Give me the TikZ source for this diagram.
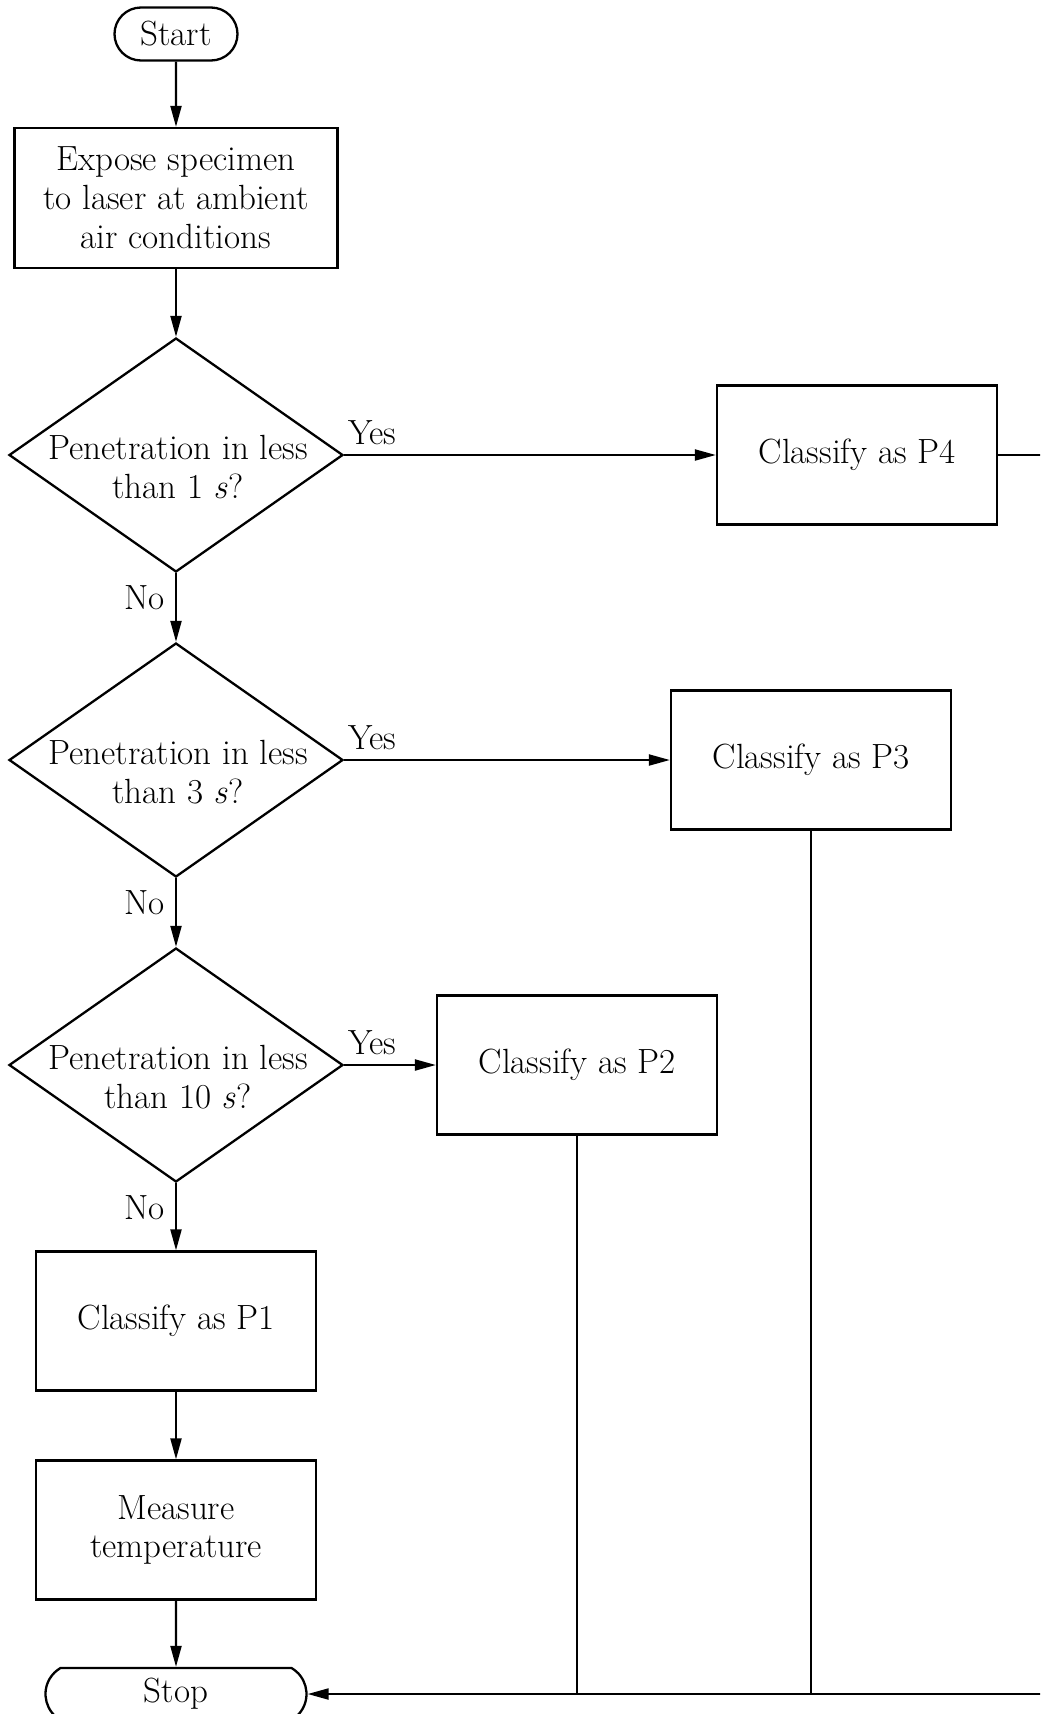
\documentclass[tikz,border=0pt]{standalone}
\usepackage{tikz}
\usetikzlibrary{shapes.geometric,shapes.misc,arrows.meta}
\newcommand{\FS}[0]{\fontsize{17.5}{19.4}\selectfont}
\newcommand{\LW}[0]{1.15pt}

\begin{document}
\begin{tikzpicture}[x=0.5pt, y=-0.5pt, font=\FS,
  term/.style={draw, line width=\LW, rounded rectangle, minimum width=61.5pt,
    minimum height=26.5pt, inner sep=0pt},
  proc/.style={draw, line width=\LW, rectangle, minimum width=140pt,
    minimum height=69.5pt, align=center, inner sep=0pt},
  decide/.style={draw, line width=\LW, diamond, minimum width=167pt,
    minimum height=117pt, inner sep=0pt},
  qtext/.style={align=center, inner sep=0pt},
  flow/.style={line width=1.05pt, -{Triangle[length=10.5pt,width=5.5pt]}},
  link/.style={line width=1.05pt},
  yeslbl/.style={pos=0, anchor=south west, inner sep=0pt, xshift=1.5pt, yshift=4.5pt},
  nolbl/.style={pos=0, anchor=north east, inner sep=0pt, xshift=-5pt, yshift=-5.5pt}]

  \useasboundingbox (0,0) rectangle (1040,1714);
  \clip (0,0) rectangle (1040,1714);

  \newcommand\CX{176}
  \newcommand\QA{455}
  \newcommand\QB{760}
  \newcommand\QC{1065}

  %% main column
  \node[term] (start) at (\CX, 34) {Start};
  \node[proc, minimum width=161.5pt, minimum height=70pt] (expose) at (\CX, 198)
    {Expose specimen\\to laser at ambient\\air conditions};

  \node[decide] (q1) at (\CX, \QA) {};
  \node[qtext] (q1txt) at (178, \QA + 12) {Penetration in less\\than 1~\textit{s}?};
  \node[decide] (q2) at (\CX, \QB) {};
  \node[qtext] (q2txt) at (178, \QB + 12) {Penetration in less\\than 3~\textit{s}?};
  \node[decide] (q3) at (\CX, \QC) {};
  \node[qtext] (q3txt) at (178, \QC + 12) {Penetration in less\\than 10~\textit{s}?};

  \node[proc] (p1) at (\CX, 1321) {Classify as P1};
  \node[proc] (measure) at (\CX, 1530) {Measure\\temperature};
  \node[term, minimum width=130.5pt, minimum height=26pt,
    rounded rectangle arc length=120] (stop) at (\CX, 1694) {Stop};

  %% classes on the right
  \node[proc] (p4) at (857, \QA) {Classify as P4};
  \node[proc] (p3) at (811, \QB) {Classify as P3};
  \node[proc] (p2) at (577, \QC) {Classify as P2};

  %% connectors
  \draw[flow] (start) -- (expose);
  \draw[flow] (expose) -- (q1);

  \draw[flow] (q1.east) -- node[yeslbl]{Yes} (p4.west); %% q1 - p4
  \draw[flow] (q1.south) -- node[nolbl]{No} (q2.north); %% q1 - q2
  \draw[flow] (q2.east) -- node[yeslbl]{Yes} (p3.west); %% q2 - p3
  \draw[flow] (q2.south) -- node[nolbl]{No} (q3.north); %% q2 - q3
  \draw[flow] (q3.east) -- node[yeslbl]{Yes} (p2.west); %% q3 - p2
  \draw[flow] (q3.south) -- node[nolbl]{No} (p1.north); %% q3 - p1

  \draw[flow] (p1) -- (measure);
  \draw[flow] (measure) -- (stop);

  \draw[flow] (p4.east) -- ++(80, 0) |- (stop.east); %% p4 - stop
  \draw[link] (p3.south) -- (p3.south |- stop.east); %% p3 - stop
  \draw[link] (p2.south) -- (p2.south |- stop.east); %% p2 - stop

\end{tikzpicture}
\end{document}
